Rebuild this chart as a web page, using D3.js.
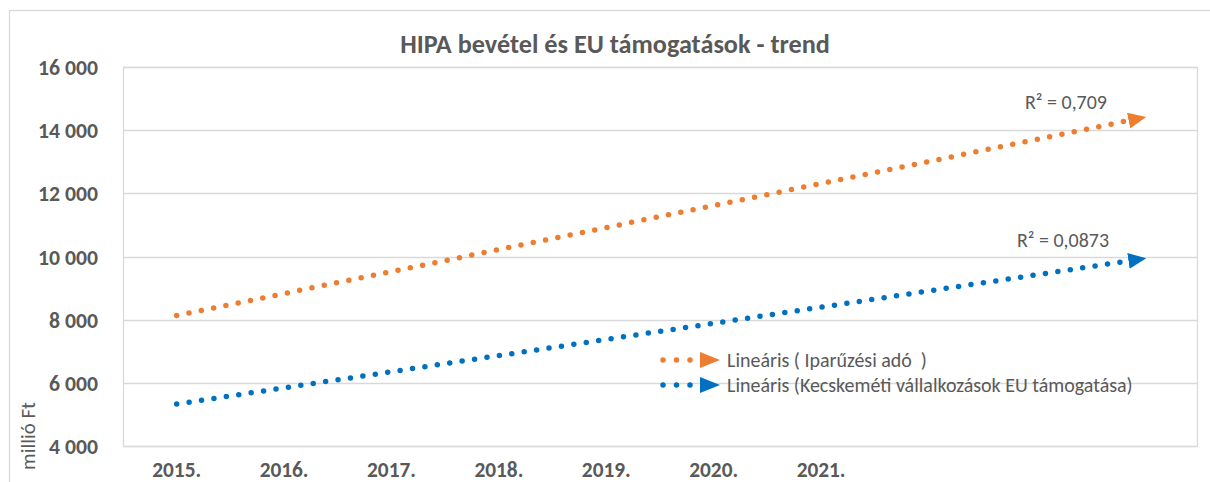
<!DOCTYPE html>
<html>
<head>
<meta charset="utf-8">
<script src="https://cdn.jsdelivr.net/npm/d3@7"></script>
<style>
  html, body { margin: 0; padding: 0; background: #fff; }
  svg { display: block; }
  text { font-family: Carlito, Calibri, Lato, "Open Sans", sans-serif; fill: #595959; white-space: pre; }
</style>
</head>
<body>
<svg id="chart" width="1210" height="482"></svg>
<script>
// ---- data ----
const categories = ["2015.", "2016.", "2017.", "2018.", "2019.", "2020.", "2021.", "2022.", "2023.", "2024."];
const tickLabels = ["2015.", "2016.", "2017.", "2018.", "2019.", "2020.", "2021.", "", "", ""];
const yTicks = [4000, 6000, 8000, 10000, 12000, 14000, 16000];
// linear trend lines (start at 2015., forecast to the last category)
const trendCategories = ["2015.", "2024."];
const trendIparuzesi = [8130, 14400];
const trendEU = [5330, 9930];
const seriesNames = ["Lineáris ( Iparűzési adó  )", "Lineáris (Kecskeméti vállalkozások EU támogatása)"];
const rSquared = ["R² = 0,709", "R² = 0,0873"];
const titleText = "HIPA bevétel és EU támogatások - trend";
const yTitle = "millió Ft";

// ---- layout ----
const W = 1210, H = 482;
const plot = { left: 123, right: 1197, top: 67, bottom: 446 };
const colors = ["#ED7D31", "#0070C0"];
const gridColor = "#D9D9D9";

const svg = d3.select("#chart");

// scale a text's font size so that its rendered width matches a target width
function fitWidth(sel, target) {
  const node = sel.node();
  const base = parseFloat(sel.attr("font-size"));
  const w = node.getComputedTextLength();
  return w > 0 ? base * target / w : base;
}

// outer chart border
svg.append("rect").attr("x", 9.5).attr("y", 10.5).attr("width", W + 10).attr("height", H + 10)
  .attr("fill", "none").attr("stroke", gridColor).attr("stroke-width", 1.3);

const x = d3.scaleBand().domain(categories).range([plot.left, plot.right]);
const y = d3.scaleLinear().domain([4000, 16000]).range([plot.bottom, plot.top]);
const xc = c => x(c) + x.bandwidth() / 2;

// gridlines
svg.append("g").selectAll("line").data(yTicks).join("line")
  .attr("x1", plot.left).attr("x2", plot.right)
  .attr("y1", d => Math.round(y(d)) + 0.5).attr("y2", d => Math.round(y(d)) + 0.5)
  .attr("stroke", gridColor).attr("stroke-width", 1.3);

// plot border
svg.append("rect").attr("x", plot.left + 0.5).attr("y", Math.round(y(16000)) + 0.5)
  .attr("width", plot.right - plot.left).attr("height", Math.round(y(4000)) - Math.round(y(16000)))
  .attr("fill", "none").attr("stroke", gridColor).attr("stroke-width", 1.3);

// y axis labels
const fmtY = d => { const s = String(d); return s.slice(0, s.length - 3) + " " + s.slice(-3); };
const yAxis = d3.axisLeft(y).tickValues(yTicks).tickSize(0).tickPadding(0).tickFormat(fmtY);
const gy = svg.append("g").attr("transform", `translate(98,0)`).call(yAxis);
gy.select(".domain").remove();
gy.selectAll("text").attr("font-size", 19).attr("font-weight", "bold")
  .style("font-family", "Carlito, Calibri, Lato, sans-serif").attr("fill", "#595959")
  .attr("dy", "0.35em");
const ySize = fitWidth(gy.selectAll("text").filter(d => d === 16000), 60);
gy.selectAll("text").attr("font-size", ySize);

// x axis labels
const xAxis = d3.axisBottom(x).tickSize(0).tickPadding(0).tickFormat((d, i) => tickLabels[i]);
const gx = svg.append("g").attr("transform", `translate(0,${plot.bottom})`).call(xAxis);
gx.select(".domain").remove();
gx.selectAll("text").attr("font-size", 19).attr("font-weight", "bold")
  .style("font-family", "Carlito, Calibri, Lato, sans-serif").attr("fill", "#595959")
  .attr("y", 24).attr("dy", "0.35em");
const xSize = fitWidth(gx.selectAll("text").filter(d => d === "2015."), 49);
gx.selectAll("text").attr("font-size", xSize);

// arrow markers
const defs = svg.append("defs");
colors.forEach((c, i) => {
  defs.append("marker").attr("id", "arrow" + i)
    .attr("viewBox", "0 0 18 16").attr("refX", 15).attr("refY", 8)
    .attr("markerWidth", 18).attr("markerHeight", 16)
    .attr("markerUnits", "userSpaceOnUse").attr("orient", "auto")
    .append("path").attr("d", "M0,0 L18,8 L0,16 Z").attr("fill", c);
});

// trend lines
const line = d3.line().x(d => xc(d.c)).y(d => y(d.v));
[trendIparuzesi, trendEU].forEach((vals, i) => {
  const pts = trendCategories.map((c, j) => ({ c, v: vals[j] }));
  svg.append("path").datum(pts).attr("d", line)
    .attr("fill", "none").attr("stroke", colors[i]).attr("stroke-width", 5.5)
    .attr("stroke-linecap", "round").attr("stroke-dasharray", "0 12.55")
    .attr("marker-end", `url(#arrow${i})`);
});

// R² labels
const rPos = [[1066, 102], [1063, 240]];
const rTexts = rSquared.map((t, i) => svg.append("text").attr("x", rPos[i][0]).attr("y", rPos[i][1])
  .attr("dy", "0.35em").attr("text-anchor", "middle").attr("font-size", 17).text(t));
const rSize = fitWidth(rTexts[0], 82);
rTexts.forEach(t => t.attr("font-size", rSize));

// legend
const legY = [360, 385];
const legTexts = seriesNames.map((name, i) => {
  const g = svg.append("g").attr("transform", `translate(0,${legY[i]})`);
  g.append("line").attr("x1", 663).attr("x2", 700).attr("y1", 0).attr("y2", 0)
    .attr("stroke", colors[i]).attr("stroke-width", 5.5).attr("stroke-linecap", "round")
    .attr("stroke-dasharray", "0 13.5");
  g.append("path").attr("d", "M700,-8 L720,0 L700,8 Z").attr("fill", colors[i]);
  return g.append("text").attr("x", 727).attr("y", 0).attr("dy", "0.35em").attr("font-size", 17).text(name);
});
const legSize = fitWidth(legTexts[1], 406);
legTexts.forEach(t => t.attr("font-size", legSize));

// title
const title = svg.append("text").attr("x", 615).attr("y", 44).attr("dy", "0.35em").attr("text-anchor", "middle")
  .attr("font-size", 23).attr("font-weight", "bold").text(titleText);
title.attr("font-size", fitWidth(title, 430));

// y axis title
const yt = svg.append("text").attr("transform", `translate(28,470) rotate(-90)`).attr("dy", "0.35em")
  .attr("text-anchor", "start").attr("font-size", 17).text(yTitle);
yt.attr("font-size", fitWidth(yt, 68));
</script>
</body>
</html>
